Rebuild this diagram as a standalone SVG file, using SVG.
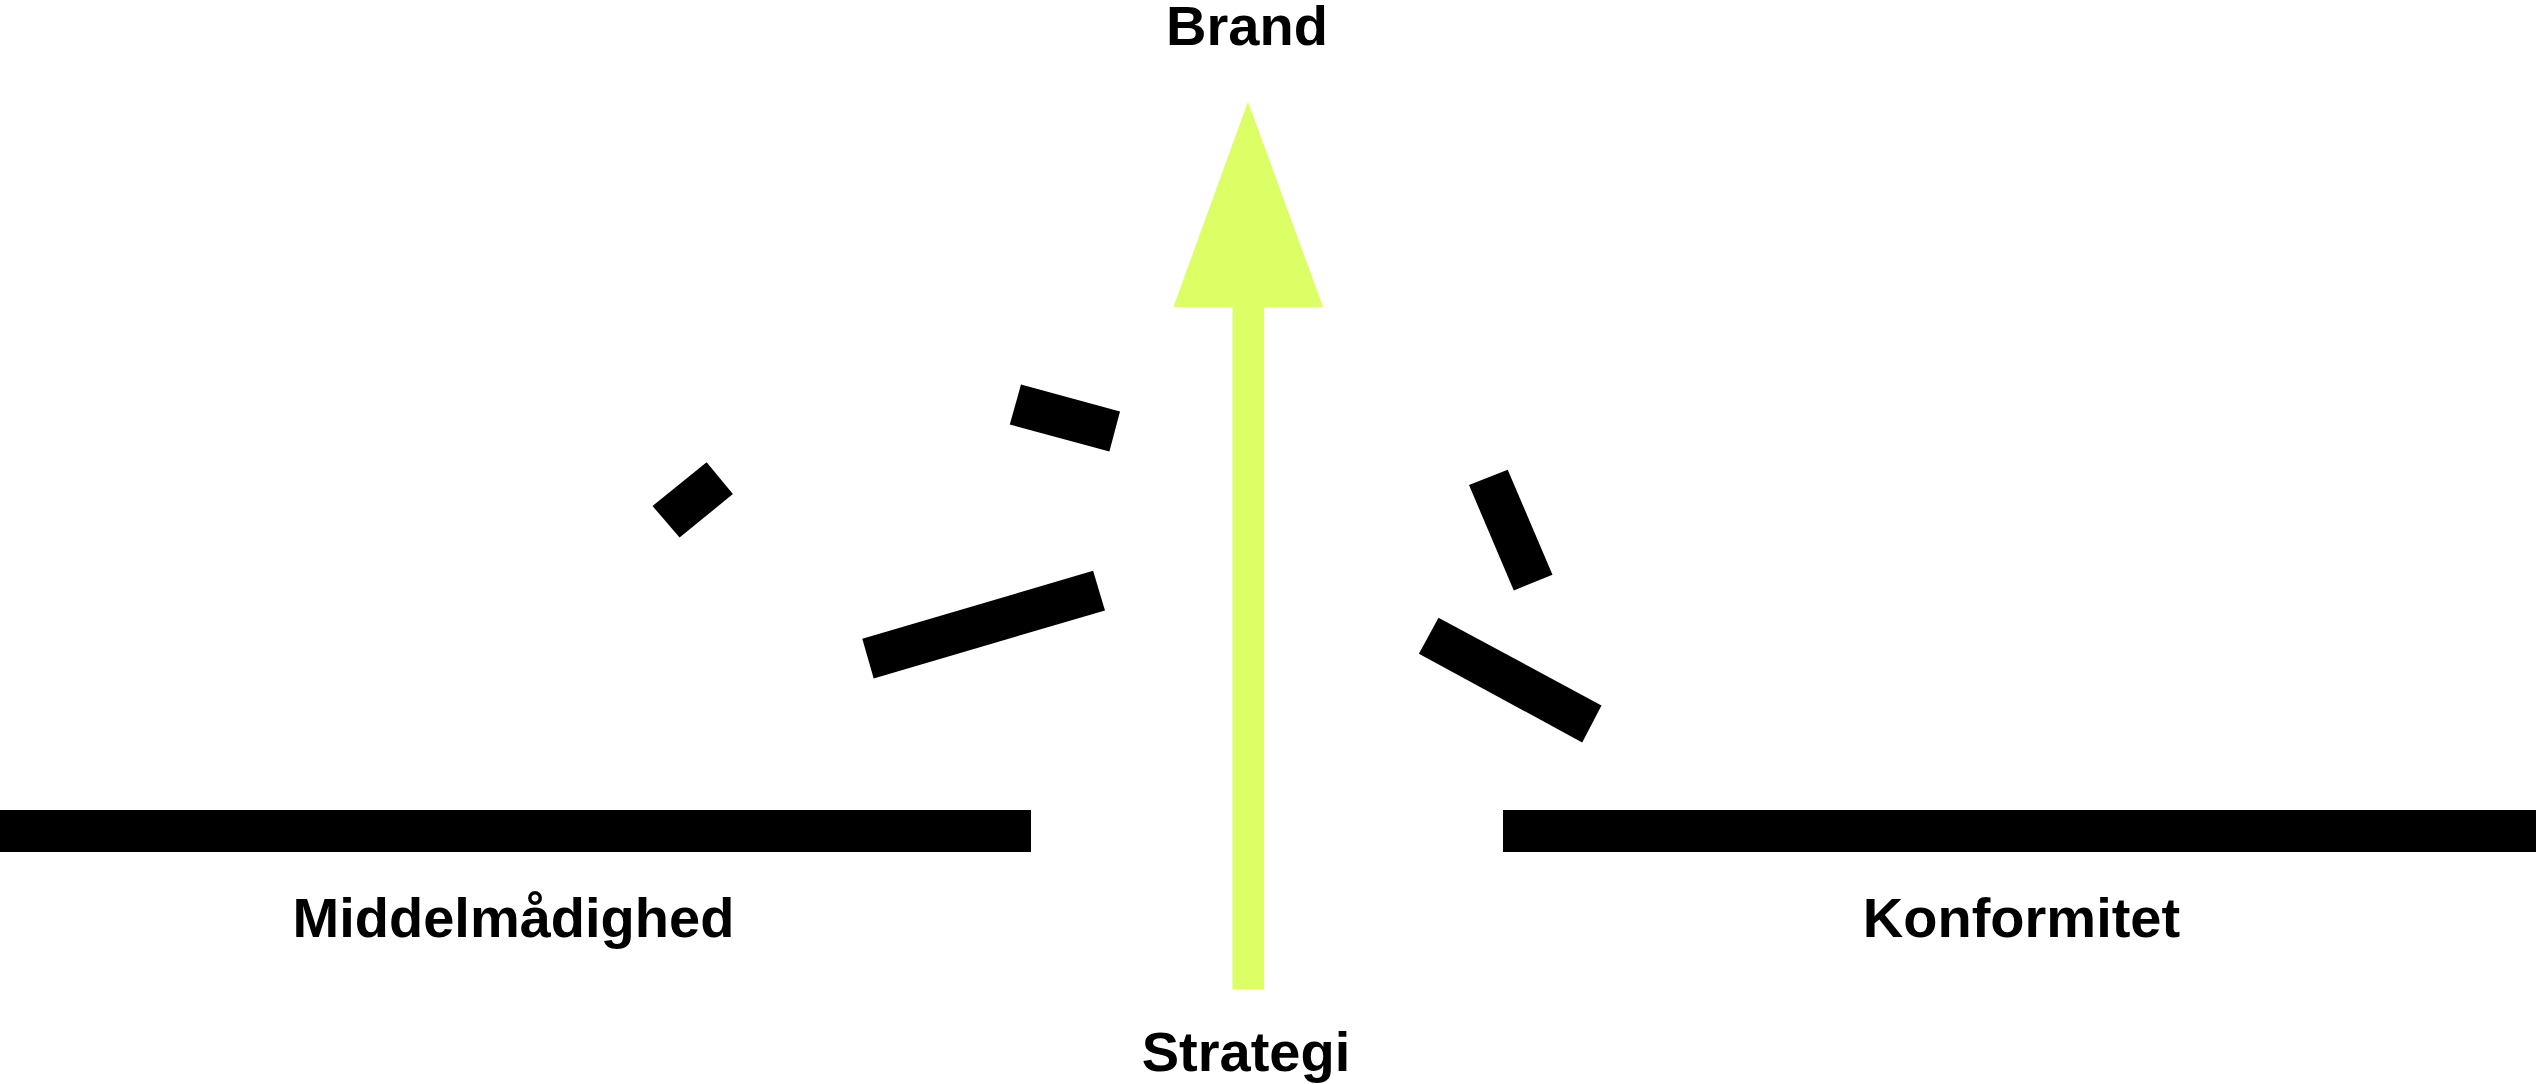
<svg xmlns="http://www.w3.org/2000/svg" width="2536" height="1084" viewBox="0 0 2536 1084">
  <style>
    .lbl { font-family: "Liberation Sans", Arial, Helvetica, sans-serif; font-weight: bold; font-size: 56px; fill: #000; text-anchor: middle; }
    .bar { fill: #000; }
    .arrow { fill: #ddff66; }
  </style>
  <rect x="0" y="0" width="2536" height="1084" fill="#ffffff"/>
  <g id="connectors">
    <g id="strategy-arrow">
      <rect class="arrow" x="1232.5" y="300" width="31.5" height="689"/>
      <polygon class="arrow" points="1248,101.5 1323.3,307.3 1173.3,307.3"/>
    </g>
  </g>
  <g id="node-middelmaadighed">
    <rect class="bar" x="0" y="810" width="1031" height="42"/>
    <text class="lbl" x="513.5" y="937">Middelmådighed</text>
  </g>
  <g id="node-konformitet">
    <rect class="bar" x="1503" y="810" width="1033" height="42"/>
    <text class="lbl" x="2021.5" y="937">Konformitet</text>
  </g>
  <g id="node-brand">
    <text class="lbl" x="1247" y="45">Brand</text>
  </g>
  <g id="node-strategi">
    <text class="lbl" x="1246" y="1071">Strategi</text>
  </g>
  <g id="fragments">
    <polygon class="bar" points="652.5,506 706.6,462.2 732.9,494 679.6,537.6"/>
    <polygon class="bar" points="1021,384.6 1120,411.4 1109.4,451.4 1009.8,424.6"/>
    <polygon class="bar" points="862.3,638.8 1093.1,570.8 1105,610.4 873.7,678.4"/>
    <polygon class="bar" points="1469,485 1507.7,469.7 1552.5,574.7 1513.8,590.5"/>
    <polygon class="bar" points="1438.5,617.7 1601.5,705.5 1582.2,742.5 1418.9,653.7"/>
  </g>
</svg>
